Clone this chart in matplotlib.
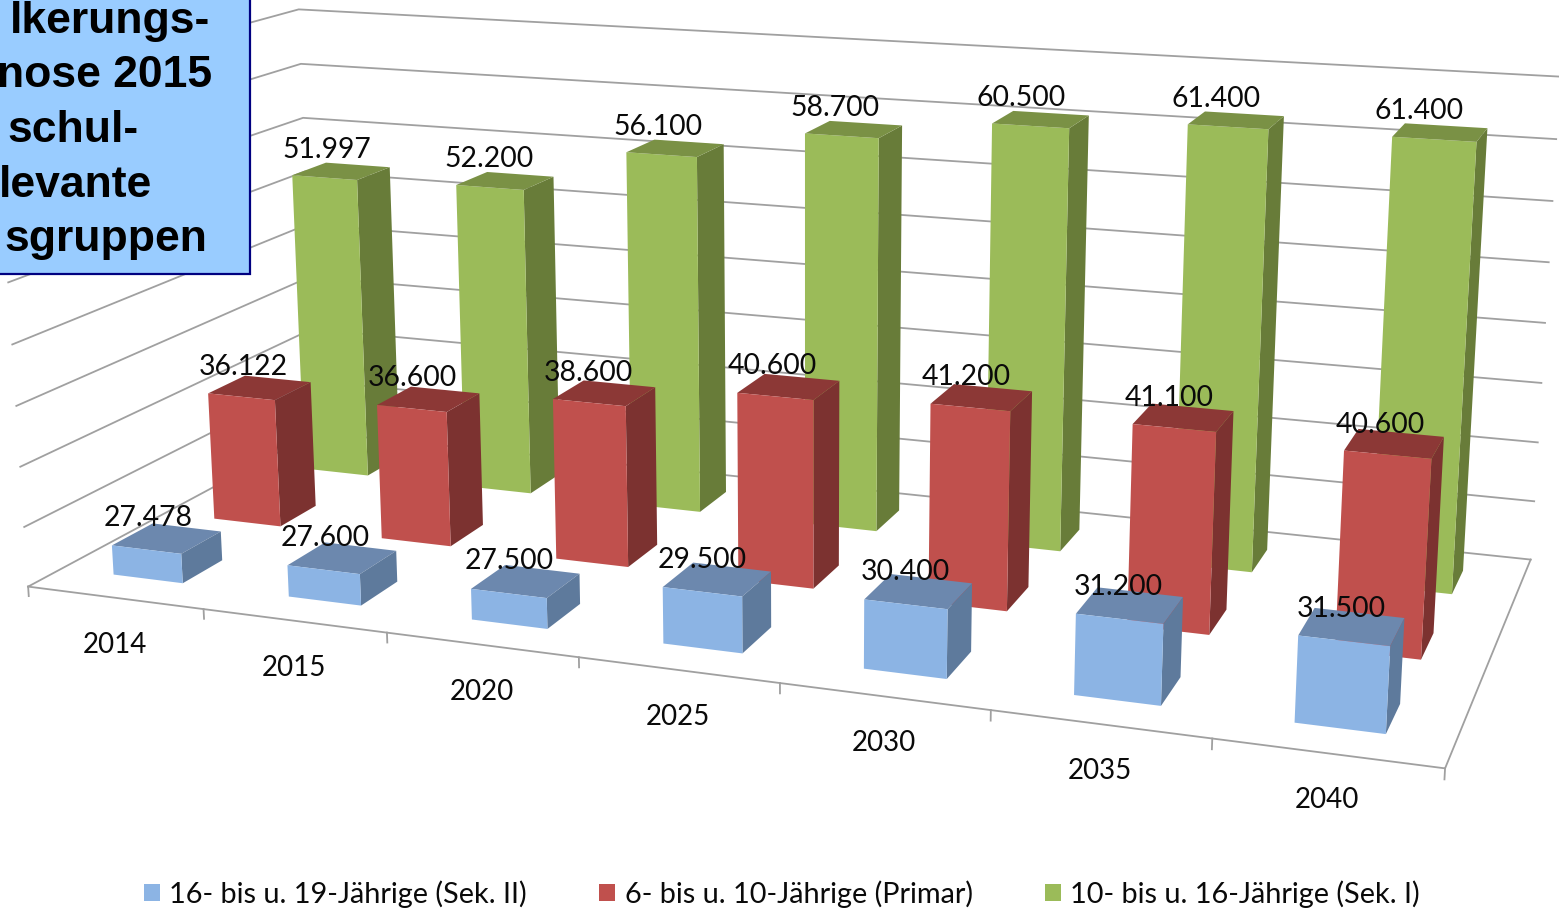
import matplotlib
matplotlib.use('Agg')
import matplotlib.pyplot as plt
from matplotlib.colors import to_rgba
from matplotlib.patches import Patch, Rectangle
from mpl_toolkits.mplot3d import proj3d

plt.rcParams['font.family'] = ['Lato', 'DejaVu Sans']

YEARS = ['2014', '2015', '2020', '2025', '2030', '2035', '2040']
SEK_2 = [27.478, 27.600, 27.500, 29.500, 30.400, 31.200, 31.500]
PRIMAR = [36.122, 36.600, 38.600, 40.600, 41.200, 41.100, 40.600]
SEK_1 = [51.997, 52.200, 56.100, 58.700, 60.500, 61.400, 61.400]
SERIES_NAMES = ['16- bis u. 19-Jährige (Sek. II)', '6- bis u. 10-Jährige (Primar)', '10- bis u. 16-Jährige (Sek. I)']
Z_TICKS = [25, 30, 35, 40, 45, 50, 55, 60, 65]
BOX_LINES = ['lkerungs-', 'nose 2015', 'schul-', 'levante', 'sgruppen']

# front, top, side
COLOURS = [
    ('#8CB4E4', '#6C88AE', '#5E7A9C'),
    ('#C0504D', '#8C3836', '#7C3230'),
    ('#9BBB59', '#7A9145', '#687C39'),
]
GRID = '#A0A0A0'
W, H = 1559, 909

fig = plt.figure(figsize=(W / 100, H / 100), dpi=100, facecolor='white')
ax = fig.add_axes([-12.3 / W, -225.1 / H, 1, W / H], projection='3d', computed_zorder=False)
ax.set_xlim(0, 7, view_margin=0)
ax.set_ylim(0, 3, view_margin=0)
ax.set_zlim(Z_TICKS[0], Z_TICKS[-1], view_margin=0)
ax.view_init(14.143, -69.942, 0.083)
ax.set_proj_type('persp', focal_length=0.3634)
ax.set_box_aspect((1, 0.4248, 0.3566), zoom=1.0057)
ax.set_axis_off()

# walls and floor
for z in Z_TICKS:
    ax.plot([0, 0, 7], [0, 3, 3], [z, z, z], color=GRID, lw=1.3, zorder=1, clip_on=False)
ax.plot([0, 7, 7], [0, 0, 3], [25, 25, 25], color=GRID, lw=1.3, zorder=1)
for i in range(8):
    ax.plot([i, i], [0, 0], [25, 24.2], color=GRID, lw=1.3, zorder=1)

M = ax.get_proj()


def label_at(x, y, z, text, dx, dy, size):
    x2, y2, _ = proj3d.proj_transform(x, y, z, M)
    ax.annotate(text, (x2, y2), xytext=(dx, dy), textcoords='offset pixels', ha='center', va='center',
                fontsize=size, color='#0A0A0A', zorder=100, annotation_clip=False)


order = 10
for s in [2, 1, 0]:
    values = [SEK_2, PRIMAR, SEK_1][s]
    front, top, side = COLOURS[s]
    # only the three faces the viewer sees: +z, -y, +x
    faces = ['none', top, front, 'none', 'none', side]
    for i, v in enumerate(values):
        ax.bar3d(i + 0.3, s + 0.31, 25, 0.4, 0.39, v - 25, color=[to_rgba(c) for c in faces],
                 shade=False, zorder=order)
        order += 1

# labels drift left along the row, more so for the rear series
label_dy = [32, 30, 28]
label_step = [0.7, 1.5, 2.8]
for s, values in enumerate([SEK_2, PRIMAR, SEK_1]):
    for i, v in enumerate(values):
        label_at(i + 0.5, s + 0.31, v, f'{v:.3f}', 2 - label_step[s] * i, label_dy[s], 20.4)

for i, year in enumerate(YEARS):
    label_at(i + 0.5, 0, 25, year, 0, -47, 20)

handles = [Patch(facecolor=c[0], label=n) for c, n in zip(COLOURS, SERIES_NAMES)]
fig.legend(handles=handles, loc='center', bbox_to_anchor=(782 / W, 1 - 894 / H), ncol=3, frameon=False,
           fontsize=20.8, handlelength=0.56, handleheight=0.56, handletextpad=0.32, columnspacing=2.5,
           borderaxespad=0, borderpad=0, labelcolor='#0A0A0A')

# title box, runs off the top left corner
fig.add_artist(Rectangle((-10 / W, 1 - 274 / H), 260 / W, 284 / H, transform=fig.transFigure,
                         facecolor='#99CCFF', edgecolor='#000080', lw=1.6, zorder=50))
box_right = [210, 212, 139, 152, 207]
box_base = [33, 87, 142, 197, 251]
for line, xr, yb in zip(BOX_LINES, box_right, box_base):
    fig.text(xr / W, 1 - yb / H, line, ha='right', va='baseline', family=['Liberation Sans'],
             fontweight='bold', fontsize=32, color='black', zorder=51)

fig.savefig('out.png', dpi=100)
